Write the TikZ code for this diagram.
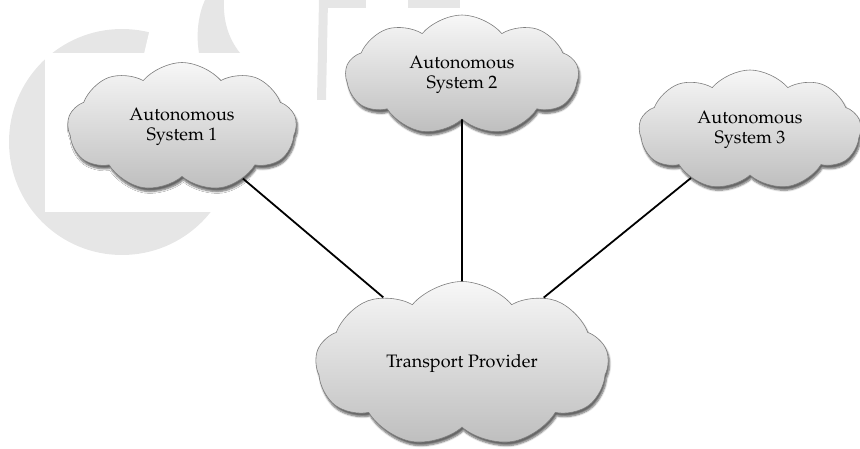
\documentclass[tikz,border=0pt]{standalone}
\usepackage[T1]{fontenc}
\usepackage{mathpazo}
\usetikzlibrary{shapes.symbols,shadows.blur}

\definecolor{wmgray}{RGB}{230,230,230}
\definecolor{cloudtop}{RGB}{247,247,247}
\definecolor{cloudbot}{RGB}{190,190,190}
\definecolor{cloudline}{RGB}{125,125,125}

\tikzset{
  netcloud/.style={cloud, cloud puffs=9, cloud puff arc=100, cloud ignores aspect,
    draw=cloudline, line width=0.6pt, top color=cloudtop, bottom color=cloudbot,
    blur shadow={shadow xshift=1.5pt, shadow yshift=-3.5pt, shadow blur steps=6, shadow opacity=60},
    font=\fontsize{18}{20.5}\selectfont, align=center, inner sep=0pt},
  link/.style={line width=1.8pt, black}
}

\begin{document}
\begin{tikzpicture}[x=1pt,y=-1pt]
\useasboundingbox (0,0) rectangle (860,449);

% faint background logo
\fill[wmgray, even odd rule] (122,142) circle[radius=113] (122,142) circle[radius=62];
\fill[white] (45,53) rectangle (250,212);
\fill[white] (152,20) -- (144,54) -- (250,54) -- (250,20) -- cycle;
\fill[wmgray] (205,0) .. controls (198,15) and (196,35) .. (199,53) -- (240,53) .. controls (228,38) and (223,20) .. (224,0) -- cycle;
\fill[wmgray] (319,0) -- (328,0) -- (326,100) -- (317,100) -- cycle;
\fill[wmgray] (327,0) rectangle (366,8);
\fill[wmgray] (408,0) rectangle (460,8);

% networks
\node[netcloud, minimum width=229pt, minimum height=129pt] (as1) at (182,127) {Autonomous\\System 1};
\node[netcloud, minimum width=233pt, minimum height=120pt] (as2) at (462,75) {Autonomous\\System 2};
\node[netcloud, minimum width=222pt, minimum height=120pt] (as3) at (750,130) {Autonomous\\System 3};
\node[netcloud, minimum width=293pt, minimum height=165pt] (tp) at (462,364) {Transport Provider};

% links to the provider
\draw[link] (as1) -- (tp);
\draw[link] (as2) -- (tp);
\draw[link] (as3) -- (tp);
\end{tikzpicture}
\end{document}
